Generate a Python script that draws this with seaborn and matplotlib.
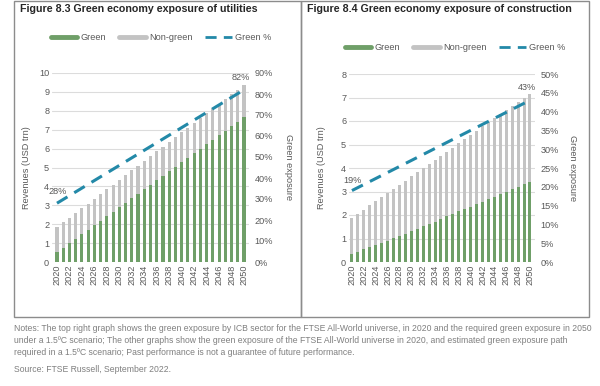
import numpy as np
import pandas as pd
import matplotlib
matplotlib.use("Agg")
import matplotlib.pyplot as plt
import seaborn as sns
from matplotlib.lines import Line2D
from matplotlib.patches import Rectangle

# ==============================
# Data
# ==============================
years = list(range(2020, 2051))

util_total = [1.85, 2.10, 2.35, 2.60, 2.84, 3.09, 3.35, 3.60, 3.84, 4.09, 4.34,
              4.60, 4.85, 5.10, 5.36, 5.61, 5.86, 6.10, 6.37, 6.61, 6.86,
              7.10, 7.37, 7.64, 7.88, 8.13, 8.38, 8.62, 8.87, 9.12, 9.38]
util_green = [0.51, 0.72, 0.99, 1.20, 1.46, 1.69, 1.94, 2.17, 2.42, 2.65, 2.89,
              3.14, 3.39, 3.60, 3.84, 4.09, 4.32, 4.57, 4.80, 5.03, 5.27,
              5.52, 5.75, 5.98, 6.23, 6.47, 6.70, 6.95, 7.20, 7.42, 7.67]
util_pct = [28.0, 29.8, 31.6, 33.4, 35.2, 37.0, 38.8, 40.6, 42.4, 44.2, 46.0,
            47.8, 49.6, 51.4, 53.2, 55.0, 56.8, 58.6, 60.4, 62.2, 64.0,
            65.8, 67.6, 69.4, 71.2, 73.0, 74.8, 76.6, 78.4, 80.2, 82.0]

cons_total = [1.88, 2.05, 2.23, 2.42, 2.60, 2.77, 2.94, 3.12, 3.29, 3.46, 3.64,
              3.81, 4.00, 4.18, 4.35, 4.53, 4.70, 4.87, 5.06, 5.24, 5.41,
              5.59, 5.78, 5.95, 6.12, 6.30, 6.47, 6.64, 6.82, 7.00, 7.16]
cons_green = [0.34, 0.42, 0.54, 0.62, 0.72, 0.82, 0.90, 1.02, 1.12, 1.20, 1.31,
              1.41, 1.53, 1.62, 1.72, 1.82, 1.94, 2.05, 2.15, 2.25, 2.36,
              2.47, 2.57, 2.67, 2.78, 2.88, 2.98, 3.09, 3.21, 3.31, 3.40]
cons_pct = [19.0, 19.8, 20.6, 21.4, 22.2, 23.0, 23.8, 24.6, 25.4, 26.2, 27.0,
            27.8, 28.6, 29.4, 30.2, 31.0, 31.8, 32.6, 33.4, 34.2, 35.0,
            35.8, 36.6, 37.4, 38.2, 39.0, 39.8, 40.6, 41.4, 42.2, 43.0]

GREEN = "#6f9f68"
GREY = "#c3c3c3"
LINE = "#2389a8"
TXT = "#595959"

sns.set_theme(style="white")
plt.rcParams["font.family"] = ["Liberation Sans", "DejaVu Sans"]

fig = plt.figure(figsize=(6, 3.86), dpi=100)
W, H = 600, 386


def fx(px):
    return px / W


def fy(py):
    return 1 - py / H


# panel frames
for x0, x1 in [(14, 301), (301, 589)]:
    fig.patches.append(Rectangle((fx(x0), fy(317)), fx(x1 - x0), (317 - 1) / H,
                                 transform=fig.transFigure, fill=False,
                                 edgecolor="#8c8c8c", lw=1.0))


def panel(box, total, green, pct, ymax, pmax, pstep, xlim, title, tpos,
          leg_pos, ylab_x, rlab_x, first_off, last_off):
    l, t, r, b = box
    ax = fig.add_axes([fx(l), fy(b), fx(r - l), (b - t) / H])
    df = pd.DataFrame({"year": years, "total": total, "green": green})
    sns.barplot(data=df, x="year", y="total", order=years, color=GREY,
                width=0.5, saturation=1, linewidth=0, ax=ax)
    sns.barplot(data=df, x="year", y="green", order=years, color=GREEN,
                width=0.5, saturation=1, linewidth=0, ax=ax)
    ax.set_ylim(0, ymax)
    ax.set_yticks(np.arange(0, ymax + 0.01, 1))
    ax.yaxis.grid(True, color="#dcdcdc", lw=0.8)
    ax.set_axisbelow(True)
    ax.set_xticks(range(0, len(years), 2))
    ax.set_xticklabels(years[::2], rotation=90)
    ax.tick_params(axis="both", labelsize=6.6, colors=TXT, length=0, pad=2)
    ax.set_xlabel("")
    ax.set_ylabel("")
    for s in ax.spines.values():
        s.set_visible(False)

    ax2 = ax.twinx()
    sns.lineplot(x=np.arange(len(years)), y=np.array(pct) / 100, ax=ax2,
                 color=LINE, lw=2.2, linestyle=(0, (4, 2.6)))
    ax2.set_ylim(0, pmax / 100)
    ax2.set_yticks(np.arange(0, pmax / 100 + 0.001, pstep / 100))
    ax2.set_yticklabels([f"{v}%" for v in range(0, pmax + 1, pstep)])
    ax2.tick_params(axis="y", labelsize=6.6, colors=TXT, length=0, pad=4)
    for s in ax2.spines.values():
        s.set_visible(False)
    ax.set_xlim(*xlim)
    ax2.set_xlim(*xlim)

    ax2.annotate(f"{pct[0]:.0f}%", (0, pct[0] / 100), xytext=first_off,
                 textcoords="offset points", fontsize=6.6, color=TXT,
                 ha="left", va="bottom")
    ax2.annotate(f"{pct[-1]:.0f}%", (len(years) - 1, pct[-1] / 100),
                 xytext=last_off, textcoords="offset points", fontsize=6.6,
                 color=TXT, ha="center", va="bottom")

    fig.text(fx(ylab_x), fy((t + b) / 2), "Revenues (USD trn)", rotation=90,
             fontsize=6.6, color=TXT, ha="center", va="center")
    fig.text(fx(rlab_x), fy((t + b) / 2), "Green exposure", rotation=270,
             fontsize=6.6, color=TXT, ha="center", va="center")
    fig.text(fx(tpos[0]), fy(tpos[1]), title, fontsize=7.7, weight="bold",
             color="#262626", ha="left", va="center")

    handles = [Line2D([], [], color=GREEN, lw=3.5),
               Line2D([], [], color=GREY, lw=3.5),
               Line2D([], [], color=LINE, lw=2, linestyle=(0, (4, 2.6)))]
    fig.legend(handles, ["Green", "Non-green", "Green %"], loc="center",
               bbox_to_anchor=(fx(leg_pos[0]), fy(leg_pos[1])), ncol=3,
               frameon=False, fontsize=6.6, labelcolor=TXT, handlelength=2.9,
               columnspacing=1.4, handletextpad=0.35)
    return ax


panel((52, 73, 249, 262), util_total, util_green, util_pct, 10, 90, 10,
      (-0.8, 30.8), "Figure 8.3 Green economy exposure of utilities", (20, 9),
      (161, 38), 27, 288, (-6, 5), (-2, 5.5))
panel((349, 74, 535, 262), cons_total, cons_green, cons_pct, 8, 50, 5,
      (-0.5, 30.85), "Figure 8.4 Green economy exposure of construction", (307, 9),
      (455, 48), 322, 572, (-6, 4), (-2, 6))

notes = ("Notes: The top right graph shows the green exposure by ICB sector for the FTSE All-World universe, in 2020 and the required green exposure in 2050\n"
         "under a 1.5\u00baC scenario; The other graphs show the green exposure of the FTSE All-World universe in 2020, and estimated green exposure path\n"
         "required in a 1.5\u00baC scenario; Past performance is not a guarantee of future performance.")
fig.text(fx(14), fy(324), notes, fontsize=6.2, color="#7f7f7f", ha="left",
         va="top", linespacing=1.4)
fig.text(fx(14), fy(370), "Source: FTSE Russell, September 2022.", fontsize=6.2,
         color="#7f7f7f", ha="left", va="center")

fig.savefig("out.png", dpi=100)
